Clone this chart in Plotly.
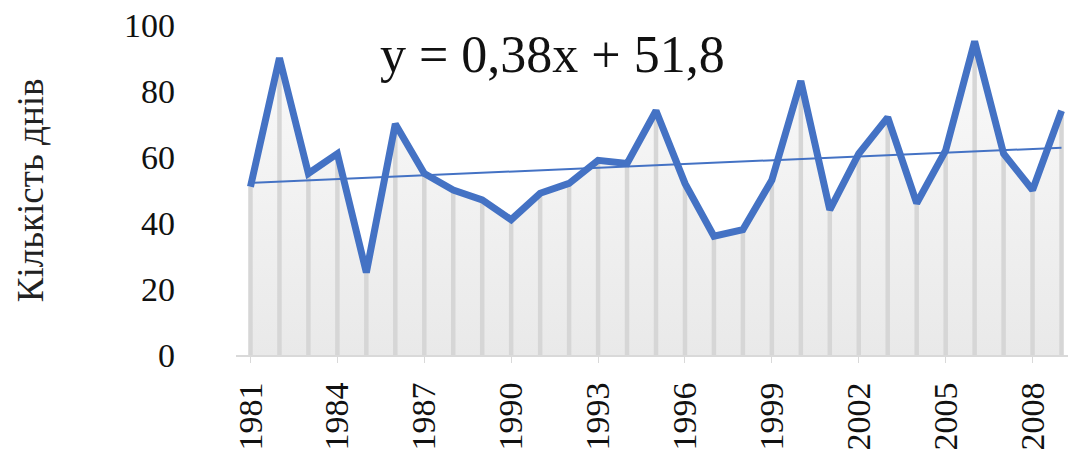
"""Number of days per year, 1981-2009, with linear trend."""

import plotly.graph_objects as go

YEARS = list(range(1981, 2010))
DAYS = [51, 90, 55, 61, 25, 70, 55, 50, 47, 41, 49, 52, 59, 58, 74,
        52, 36, 38, 53, 83, 44, 61, 72, 46, 62, 95, 61, 50, 74]
TREND_SLOPE = 0.38
TREND_INTERCEPT = 51.8
Y_TICKS = [0, 20, 40, 60, 80, 100]
X_TICKS = YEARS[::3]

BLUE = "#4472c4"
SERIF = "Liberation Serif, Times New Roman, serif"


def main() -> None:
    trend = [TREND_SLOPE * (i + 1) + TREND_INTERCEPT for i in range(len(YEARS))]

    fig = go.Figure()

    # shaded area under the series
    fig.add_trace(go.Scatter(
        x=YEARS, y=DAYS, mode="lines", line=dict(width=0),
        fill="tozeroy",
        fillgradient=dict(type="vertical",
                          colorscale=[[0, "#e9e9e9"], [1, "#fafafa"]]),
        hoverinfo="skip", showlegend=False,
    ))
    # drop lines from each point to the axis
    fig.add_trace(go.Scatter(
        x=YEARS, y=DAYS, mode="markers", marker=dict(size=0.1, opacity=0),
        error_y=dict(type="data", symmetric=False, array=[0] * len(DAYS),
                     arrayminus=DAYS, color="#d6d6d6", thickness=4.5, width=0),
        hoverinfo="skip", showlegend=False,
    ))
    fig.add_trace(go.Scatter(
        x=YEARS, y=trend, mode="lines",
        line=dict(color=BLUE, width=2), showlegend=False,
    ))
    fig.add_trace(go.Scatter(
        x=YEARS, y=DAYS, mode="lines",
        line=dict(color=BLUE, width=7), showlegend=False,
    ))

    fig.add_annotation(
        text="y = 0,38x + 51,8", xref="paper", yref="paper",
        x=0.377, y=0.91, xanchor="center", yanchor="middle",
        showarrow=False, font=dict(family=SERIF, size=52, color="#111"),
    )
    fig.add_annotation(
        text="Кількість днів", xref="paper", yref="paper",
        x=-0.245, y=0.5, xanchor="center", yanchor="middle", textangle=-90,
        showarrow=False, font=dict(family=SERIF, size=37, color="#222"),
    )

    fig.update_xaxes(
        range=[1980.5, 2009.5], tickvals=X_TICKS, tickangle=-90,
        showgrid=False, zeroline=False, showline=True, linecolor="#d9d9d9",
        linewidth=2, ticks="outside", ticklen=6, tickcolor="#d9d9d9",
        ticklabelstandoff=6, ticklabeloverflow="allow", automargin=False,
        tickfont=dict(family=SERIF, size=34, color="#111"),
    )
    fig.update_yaxes(
        range=[0, 100], tickvals=Y_TICKS, showgrid=False, zeroline=False,
        showline=False, ticklabelstandoff=60, ticklabeloverflow="allow",
        automargin=False,
        tickfont=dict(family=SERIF, size=34, color="#111"),
    )
    # the page adds an 8 px body margin, so the figure is shrunk to fit
    fig.update_layout(
        width=1068, height=448,
        margin=dict(l=228, r=0, t=17, b=101),
        plot_bgcolor="white", paper_bgcolor="white",
    )

    fig.write_html("out.html")


if __name__ == "__main__":
    main()
